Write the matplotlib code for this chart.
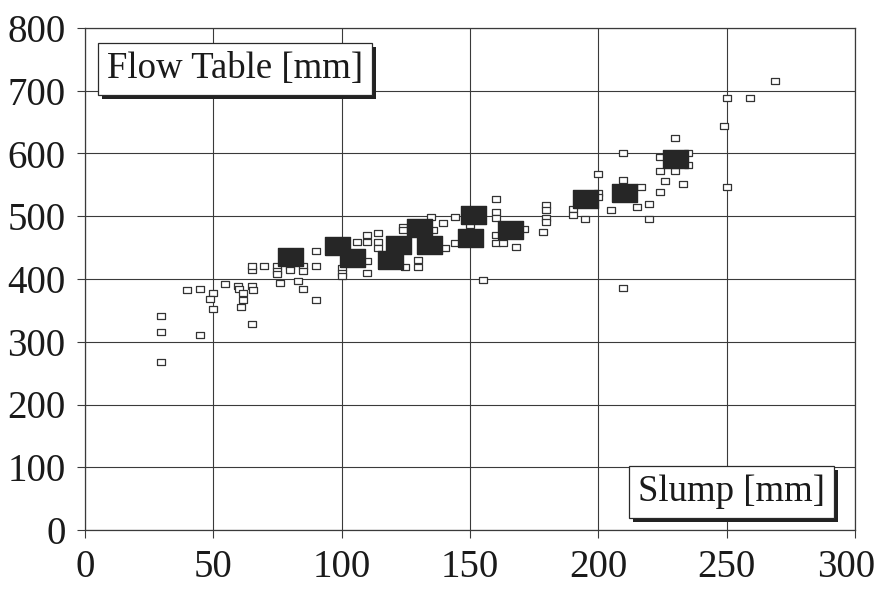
import matplotlib.pyplot as plt
import matplotlib.patheffects as pe
from matplotlib.transforms import ScaledTranslation

# --- individual measurements (slump, flow table) ---
slump_pts = [29.6, 29.6, 29.6, 39.6, 44.8, 44.8, 49.7, 48.7, 49.7,
             54.7, 59.7, 60, 61.7, 61.7, 60.8, 64.9, 65.3, 64.9, 64.9, 64.9,
             69.9, 74.9, 74.9, 74.9, 76, 79.9, 79.9, 83, 84.8, 84.8, 84.8,
             89.9, 89.9, 89.9, 100, 100, 100,
             109.7, 109.7, 105.8, 109.7, 109.7, 114, 114, 114,
             124.7, 129.9, 129.9, 124, 124,
             135, 135.7, 139.6, 140.2, 144, 144, 155.2, 150,
             160, 160, 160, 160, 160, 162.7, 168, 171, 178.5,
             179.5, 179.5, 179.5, 179.5, 190, 190, 195,
             200, 200, 200, 205, 209.7, 209.7, 209.7,
             216.8, 214.9, 219.8, 219.8, 224, 224, 226, 229.8, 229.8, 224.2,
             235, 235, 233, 249, 250, 250, 259, 269]
flow_pts = [341, 315, 267, 382, 384, 310, 378, 368, 352,
            392, 389, 384, 377, 367, 356, 389, 382, 328, 414, 420,
            420, 421, 413, 408, 393, 420, 414, 397, 384, 420, 412,
            445, 420, 367, 417, 410, 404,
            470, 459, 459, 429, 409, 473, 459, 449,
            419, 419, 430, 483, 478,
            499, 478, 489, 449, 499, 457, 398, 486,
            527, 507, 498, 470, 458, 458, 451, 479, 475,
            518, 510, 497, 491, 512, 502, 496,
            567, 537, 531, 510, 601, 557, 386,
            547, 515, 520, 496, 539, 572, 556, 572, 625, 595,
            601, 581, 552, 644, 688, 546, 689, 716]

# --- mean values (filled squares) ---
slump_mean = [80, 98, 104, 119, 122, 130, 134, 150, 151, 165.5, 195, 210, 230]
flow_mean = [435, 452, 433, 430, 454, 481, 454, 465, 502, 478, 527, 537, 591]

x_ticks = [0, 50, 100, 150, 200, 250, 300]
y_ticks = [0, 100, 200, 300, 400, 500, 600, 700, 800]

plt.rcParams['font.family'] = ['Liberation Serif', 'DejaVu Serif']

fig = plt.figure(figsize=(8.78, 5.95), dpi=100)
ax = fig.add_axes([85 / 878, 1 - 530 / 595, 770 / 878, 502 / 595])

rect = [(-1, -0.72), (1, -0.72), (1, 0.72), (-1, 0.72), (-1, -0.72)]

ax.plot(slump_pts, flow_pts, linestyle='none', marker=rect, markersize=6,
        markerfacecolor='white', markeredgecolor='#333333',
        markeredgewidth=0.9, zorder=3)
ax.plot(slump_mean, flow_mean, linestyle='none', marker=rect, markersize=18,
        markerfacecolor='#262626', markeredgecolor='#262626', zorder=4)

ax.set_xlim(0, 300)
ax.set_ylim(0, 800)
ax.set_xticks(x_ticks)
ax.set_yticks(y_ticks)
ax.grid(True, color='#3a3a3a', linewidth=0.8)
ax.set_axisbelow(True)
for s in ax.spines.values():
    s.set_color('#3a3a3a')
    s.set_linewidth(0.9)
ax.tick_params(direction='out', length=6, width=0.8, color='#3a3a3a',
               labelsize=28, colors='#1a1a1a')
ax.tick_params(axis='x', pad=8)
ax.tick_params(axis='y', pad=8)

# last x label sits a bit left of its gridline in the original
fig.canvas.draw()
last = ax.get_xticklabels()[-1]
last.set_transform(last.get_transform() + ScaledTranslation(-9 / 100, 0, fig.dpi_scale_trans))

for txt, xy in [("Flow Table [mm]", (0.195, 0.919)), ("Slump [mm]", (0.8396, 0.0757))]:
    t = ax.text(xy[0], xy[1], txt, transform=ax.transAxes, ha='center', va='center',
                fontsize=26.5, color='#1a1a1a', zorder=6,
                bbox=dict(boxstyle='square,pad=0.24', facecolor='white',
                          edgecolor='#2a2a2a', linewidth=0.9))
    t.get_bbox_patch().set_path_effects([
        pe.SimplePatchShadow(offset=(3, -3), shadow_rgbFace='#222222', alpha=1.0),
        pe.Normal()])

fig.savefig("out.png", dpi=100)
